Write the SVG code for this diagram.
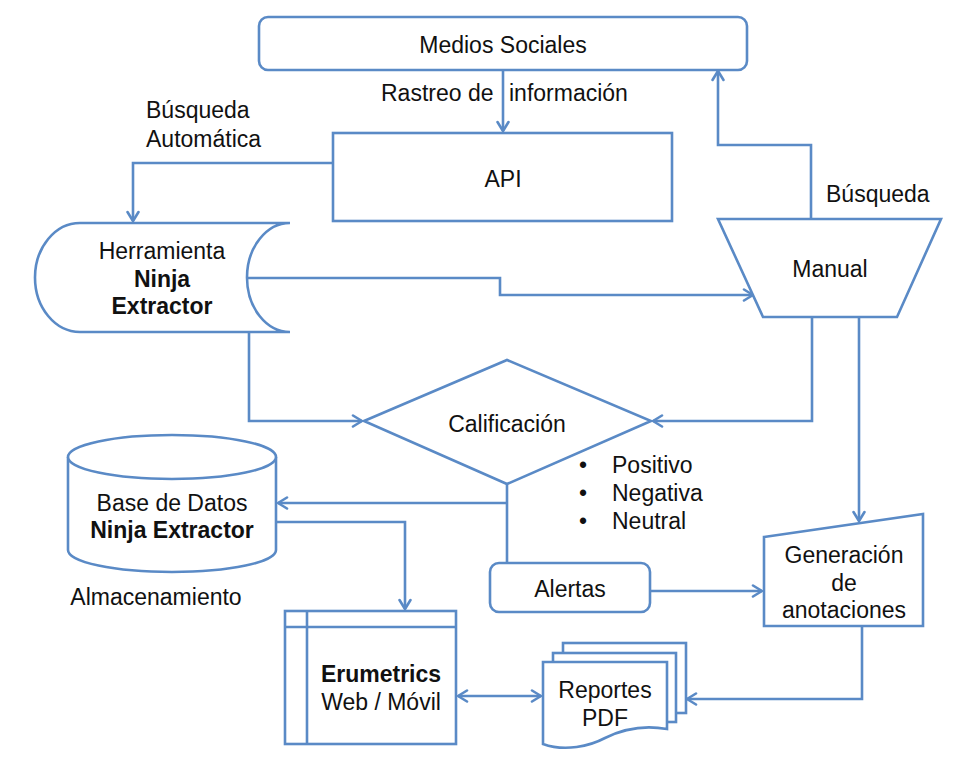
<svg xmlns="http://www.w3.org/2000/svg" width="974" height="770" viewBox="0 0 974 770">
<defs>
<style>
.s{fill:#fff;stroke:#5A8AC6;stroke-width:2.6;stroke-linejoin:miter}
.c{fill:none;stroke:#5A8AC6;stroke-width:2.6}
.t{font-family:"Liberation Sans",Arial,sans-serif;font-size:23px;fill:#111}
.b{font-weight:bold}
.m{text-anchor:middle}
</style>
<marker id="ah" viewBox="0 0 14 14" refX="12" refY="7" markerWidth="14" markerHeight="14" markerUnits="userSpaceOnUse" orient="auto-start-reverse">
<path d="M3,1.5 L12,7 L3,12.5" fill="none" stroke="#5A8AC6" stroke-width="2.6" stroke-linecap="round" stroke-linejoin="round"/>
</marker>
</defs>
<rect width="974" height="770" fill="#fff"/>
<g id="connectors">
<path class="c" d="M503,70 V131" marker-end="url(#ah)"/>
<path class="c" d="M333,163 H133 V221" marker-end="url(#ah)"/>
<path class="c" d="M811,219 V145 H718 V71" marker-end="url(#ah)"/>
<path class="c" d="M247,278 H500 V295 H753" marker-end="url(#ah)"/>
<path class="c" d="M249,332 V421 H362" marker-end="url(#ah)"/>
<path class="c" d="M812,317 V421 H653" marker-end="url(#ah)"/>
<path class="c" d="M859,317 V521" marker-end="url(#ah)"/>
<path class="c" d="M507,484 V563"/>
<path class="c" d="M507,503 H278" marker-end="url(#ah)"/>
<path class="c" d="M276,522 H405 V609" marker-end="url(#ah)"/>
<path class="c" d="M650,591 H762" marker-end="url(#ah)"/>
<path class="c" d="M862,626 V699 H687" marker-end="url(#ah)"/>
<path class="c" d="M458,696 H541" marker-start="url(#ah)" marker-end="url(#ah)"/>
</g>
<g id="medios">
<rect class="s" x="259" y="17" width="488" height="53" rx="9"/>
<text class="t m" x="503" y="53">Medios Sociales</text>
</g>
<g id="rastreo">
<text class="t" x="381" y="101">Rastreo de</text>
<text class="t" x="509" y="101">información</text>
</g>
<g id="busqueda-auto">
<text class="t" x="146" y="118">Búsqueda</text>
<text class="t" x="146" y="147">Automática</text>
</g>
<g id="api">
<rect class="s" x="333" y="133" width="339" height="88"/>
<text class="t m" x="503" y="187">API</text>
</g>
<g id="herramienta">
<path class="s" d="M80,223 H290 A43,54.5 0 0 0 290,332 H80 A45,54.5 0 0 1 80,223 Z"/>
<text class="t m" x="162" y="259">Herramienta</text>
<text class="t m b" x="162" y="287">Ninja</text>
<text class="t m b" x="162" y="314">Extractor</text>
</g>
<g id="manual">
<polygon class="s" points="718,219 941,219 897,317 763,317"/>
<text class="t m" x="830" y="277">Manual</text>
<text class="t" x="826" y="202">Búsqueda</text>
</g>
<g id="calificacion">
<polygon class="s" points="364,421 507,360 651,421 507,484"/>
<text class="t m" x="507" y="432">Calificación</text>
</g>
<g id="clasificacion">
<text class="t m" x="583" y="473">•</text>
<text class="t m" x="583" y="501">•</text>
<text class="t m" x="583" y="529">•</text>
<text class="t" x="612" y="473">Positivo</text>
<text class="t" x="612" y="501">Negativa</text>
<text class="t" x="612" y="529">Neutral</text>
</g>
<g id="base-datos">
<path class="s" d="M68,457 V550 A104,22 0 0 0 276,550 V457"/>
<ellipse class="s" cx="172" cy="457" rx="104" ry="22"/>
<text class="t m" x="172" y="511">Base de Datos</text>
<text class="t m b" x="172" y="538">Ninja Extractor</text>
<text class="t m" x="156" y="605">Almacenamiento</text>
</g>
<g id="alertas">
<rect class="s" x="490" y="563" width="160" height="49" rx="9"/>
<text class="t m" x="570" y="597">Alertas</text>
</g>
<g id="generacion">
<polygon class="s" points="764,537 923,514 923,626 764,626"/>
<text class="t m" x="844" y="563">Generación</text>
<text class="t m" x="844" y="591">de</text>
<text class="t m" x="844" y="618">anotaciones</text>
</g>
<g id="erumetrics">
<rect class="s" x="285" y="611" width="171" height="133"/>
<path class="c" d="M307,611 V744 M285,627 H456"/>
<text class="t m b" x="381" y="682">Erumetrics</text>
<text class="t m" x="381" y="710">Web / Móvil</text>
</g>
<g id="reportes">
<rect class="s" x="563" y="643" width="123" height="70"/>
<rect class="s" x="553" y="653" width="123" height="69"/>
<path class="s" d="M543,662 H667 V729 C645,725 625,728 605,738 C590,746 565,752 543,744 Z"/>
<text class="t m" x="605" y="698">Reportes</text>
<text class="t m" x="605" y="726">PDF</text>
</g>
</svg>
